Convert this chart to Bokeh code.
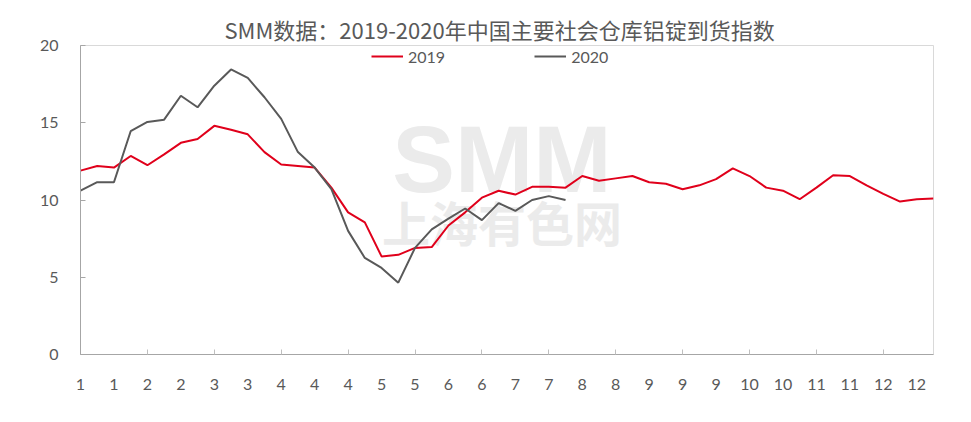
from bokeh.plotting import figure
from bokeh.models import Range1d, FixedTicker, Legend, LegendItem
from bokeh.core.properties import value
from bokeh.embed import file_html
from bokeh.resources import INLINE

# ---- data (weekly index) ----
weeks_2019 = list(range(52))
values_2019 = [11.9, 12.2, 12.1, 12.85, 12.25, 12.95, 13.7, 13.95, 14.8, 14.55, 14.25, 13.1,
               12.3, 12.2, 12.1, 10.8, 9.2, 8.55, 6.35, 6.45, 6.9, 6.95, 8.35, 9.2,
               10.15, 10.6, 10.35, 10.85, 10.85, 10.8, 11.55, 11.25, 11.4, 11.55, 11.15, 11.05,
               10.7, 10.95, 11.35, 12.05, 11.55, 10.8, 10.6, 10.05, 10.8, 11.6, 11.55, 10.95,
               10.4, 9.9, 10.05, 10.1]
weeks_2020 = list(range(30))
values_2020 = [10.6, 11.15, 11.15, 14.45, 15.05, 15.2, 16.75, 16.0, 17.4, 18.45, 17.9, 16.65,
               15.25, 13.1, 12.1, 10.7, 8.0, 6.25, 5.6, 4.65, 6.9, 8.1, 8.8, 9.45,
               8.7, 9.8, 9.3, 10.0, 10.25, 10.0]
x_label_positions = list(range(0, 52, 2))
x_labels = ["1", "1", "2", "2", "3", "3", "4", "4", "4", "5", "5", "6", "6",
            "7", "7", "8", "8", "9", "9", "9", "10", "10", "11", "11", "12", "12"]
x_tick_marks = list(range(4, 52, 4))
y_ticks = [0, 5, 10, 15, 20]

TITLE = "SMM数据：2019-2020年中国主要社会仓库铝锭到货指数"
RED = "#E0001B"
GRAY = "#595959"
TXT = "#595959"
CJK = "Noto Sans CJK SC"
NUM = "Lato"

p = figure(width=955, height=404, output_backend="svg", toolbar_location=None,
           x_range=Range1d(0, 51), y_range=Range1d(0, 20),
           min_border_left=80, min_border_right=22, min_border_top=45, min_border_bottom=50)

p.title.text = TITLE
p.title.text_font = CJK
p.title.text_font_size = "22px"
p.title.text_font_style = "normal"
p.title.text_color = TXT
p.title.align = "left"
p.title.offset = 144
p.title.standoff = 2

p.xgrid.visible = False
p.ygrid.visible = False
p.outline_line_color = "#d9d9d9"
p.outline_line_width = 1
p.background_fill_color = "white"
p.border_fill_color = "white"

# watermark
p.text(x=[25.2], y=[12.6], text=["SMM"], text_font=value("Liberation Sans"),
       text_font_size="94px", text_font_style="bold", text_color="#ebebeb",
       text_align="center", text_baseline="middle")
p.text(x=[25.2], y=[8.65], text=["上海有色网"], text_font=value(CJK),
       text_font_size="48px", text_font_style="bold", text_color="#ebebeb",
       text_align="center", text_baseline="middle")

r19 = p.line(weeks_2019, values_2019, line_color=RED, line_width=2)
r20 = p.line(weeks_2020, values_2020, line_color=GRAY, line_width=2)

# axes
xa = p.xaxis[0]
xa.ticker = FixedTicker(ticks=x_label_positions, minor_ticks=x_tick_marks)
xa.major_label_overrides = {pos: lab for pos, lab in zip(x_label_positions, x_labels)}
xa.major_tick_line_color = None
xa.major_tick_in = 0
xa.major_tick_out = 0
xa.minor_tick_in = 5
xa.minor_tick_out = 0
xa.minor_tick_line_color = "#bfbfbf"
xa.axis_line_color = "#a6a6a6"
xa.major_label_standoff = 24
xa.major_label_text_font = NUM
xa.major_label_text_font_size = "16px"
xa.major_label_text_color = TXT

ya = p.yaxis[0]
ya.ticker = FixedTicker(ticks=y_ticks)
ya.major_tick_in = 5
ya.major_tick_out = 0
ya.major_tick_line_color = "#a6a6a6"
ya.minor_tick_line_color = None
ya.axis_line_color = "#a6a6a6"
ya.major_label_standoff = 22
ya.major_label_text_font = NUM
ya.major_label_text_font_size = "16px"
ya.major_label_text_color = TXT

legend = Legend(items=[LegendItem(label="2019", renderers=[r19]),
                       LegendItem(label="2020", renderers=[r20])],
                orientation="horizontal", location=(291, 288),
                padding=0, margin=0, spacing=89, label_standoff=5,
                glyph_width=32, glyph_height=20,
                label_text_font=NUM, label_text_font_size="16px", label_text_color=TXT,
                border_line_color=None, background_fill_alpha=0)
p.add_layout(legend)

open("out.html", "w").write(file_html(p, INLINE))
